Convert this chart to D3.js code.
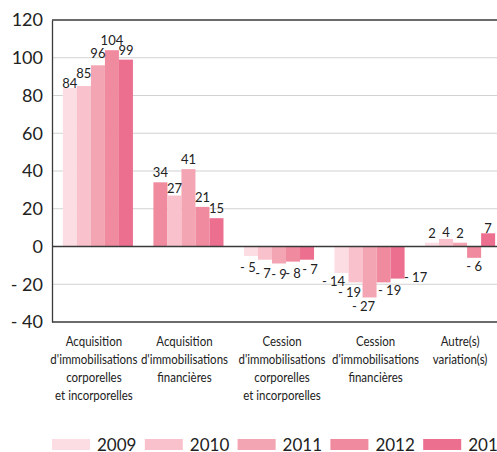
<!DOCTYPE html>
<html>
<head>
<meta charset="utf-8">
<script src="https://cdn.jsdelivr.net/npm/d3@7"></script>
<style>
  html, body { margin: 0; padding: 0; background: #fff; }
  svg { display: block; font-family: Lato, "Open Sans", sans-serif; }
</style>
</head>
<body>
<svg id="chart" width="497" height="452"></svg>
<script>
// Category labels (one entry per line)
const categories = [
  ["Acquisition", "d'immobilisations", "corporelles", "et incorporelles"],
  ["Acquisition", "d'immobilisations", "financières"],
  ["Cession", "d'immobilisations", "corporelles", "et incorporelles"],
  ["Cession", "d'immobilisations", "financières"],
  ["Autre(s)", "variation(s)"]
];
const years = ["2009", "2010", "2011", "2012", "2013"];
const values2009 = [84, 34, -5, -14, 2];
const values2010 = [85, 27, -7, -19, 4];
const values2011 = [96, 41, -9, -27, 2];
const values2012 = [104, 21, -8, -19, -6];
const values2013 = [99, 15, -7, -17, 7];
const yTicks = [-40, -20, 0, 20, 40, 60, 80, 100, 120];
const colors = ["#fcdde3", "#f8c1cb", "#f4a5b3", "#f08a9f", "#ed6f90"];

const series = [values2009, values2010, values2011, values2012, values2013];

// Styling tweaks: one bar drawn in another shade, label nudges, category label shifts
const shadeOverride = { "1-0": 3 };
const labelNudge = {
  "0-0": [0, 5], "0-1": [0, -3], "0-2": [0, -2],
  "1-1": [0, 2],
  "2-0": [-3, 0], "2-1": [-2, 2], "2-4": [3, -2],
  "3-0": [-8, -3], "3-1": [-6, -1], "3-2": [-6, -2], "3-3": [6, -3], "3-4": [18, -13],
  "4-1": [0, 3], "4-3": [0, -3], "4-4": [0, 5]
};
const catShift = [-4, -4, 3, 6, 0];

const svg = d3.select("#chart");
const W = 497;
const left = 52;

const y = d3.scaleLinear().domain([-40, 120]).range([322, 20]);
const x0 = d3.scaleBand().domain(d3.range(categories.length))
  .range([left, 506]).paddingInner(0.226).paddingOuter(0.12);
const x1 = d3.scaleBand().domain(d3.range(years.length)).range([0, x0.bandwidth()]);

// Horizontal gridlines
svg.append("g").selectAll("line")
  .data(yTicks.filter(t => t !== 0 && t !== -40 && t !== 120))
  .join("line")
  .attr("x1", left).attr("x2", W)
  .attr("y1", d => y(d)).attr("y2", d => y(d))
  .attr("stroke", "#d2d2d2").attr("stroke-width", 1.2);

// Bars
const bars = [];
categories.forEach((c, ci) => {
  series.forEach((s, si) => {
    bars.push({ ci, si, v: s[ci] });
  });
});

svg.append("g").selectAll("rect")
  .data(bars)
  .join("rect")
  .attr("x", d => x0(d.ci) + x1(d.si))
  .attr("width", x1.bandwidth())
  .attr("y", d => y(Math.max(0, d.v)))
  .attr("height", d => Math.abs(y(d.v) - y(0)))
  .attr("fill", d => colors[shadeOverride[d.ci + "-" + d.si] ?? d.si]);

// Frame lines: top, zero and bottom
[120, 0, -40].forEach(t => {
  svg.append("line")
    .attr("x1", left).attr("x2", W)
    .attr("y1", y(t)).attr("y2", y(t))
    .attr("stroke", "#3a3a3a").attr("stroke-width", 1.3);
});

// Y axis
const fmt = v => v < 0 ? "- " + Math.abs(v) : String(v);
const yAxis = svg.append("g")
  .attr("transform", `translate(${left},0)`)
  .call(d3.axisLeft(y).tickValues(yTicks).tickSize(0).tickPadding(9).tickFormat(fmt));
yAxis.select(".domain").attr("stroke", "#3a3a3a").attr("stroke-width", 1.3);
yAxis.selectAll("text")
  .attr("font-size", 18).attr("fill", "#222")
  .attr("font-family", "Lato, sans-serif");

// Value labels
svg.append("g").selectAll("text")
  .data(bars)
  .join("text")
  .attr("text-anchor", "middle")
  .attr("font-size", 13)
  .attr("fill", "#222")
  .attr("x", d => {
    const n = labelNudge[d.ci + "-" + d.si] || [0, 0];
    return x0(d.ci) + x1(d.si) + x1.bandwidth() / 2 + n[0];
  })
  .attr("y", d => {
    const n = labelNudge[d.ci + "-" + d.si] || [0, 0];
    return (d.v >= 0 ? y(d.v) - 5 : y(d.v) + 16) + n[1];
  })
  .text(d => fmt(d.v));

// Category labels, condensed so neighbouring columns do not collide
const catG = svg.append("g").selectAll("g")
  .data(categories)
  .join("g")
  .attr("transform", (d, i) => `translate(${x0(i) + x0.bandwidth() / 2 + catShift[i]},346)`);
const catText = catG.append("text")
  .attr("text-anchor", "middle")
  .attr("font-size", 14)
  .attr("fill", "#222")
  .attr("transform", "scale(0.82,1)");
catText.selectAll("tspan")
  .data(d => d)
  .join("tspan")
  .attr("x", 0)
  .attr("dy", (d, i) => i === 0 ? 0 : 18)
  .text(d => d);

// Legend
const legend = svg.append("g").selectAll("g")
  .data(years)
  .join("g")
  .attr("transform", (d, i) => `translate(${52 + i * 92.8},439)`);
legend.append("rect")
  .attr("width", 38).attr("height", 11)
  .attr("fill", (d, i) => colors[i]);
legend.append("text")
  .attr("x", 45).attr("y", 11.5)
  .attr("font-size", 17).attr("fill", "#222")
  .text(d => d);
</script>
</body>
</html>
